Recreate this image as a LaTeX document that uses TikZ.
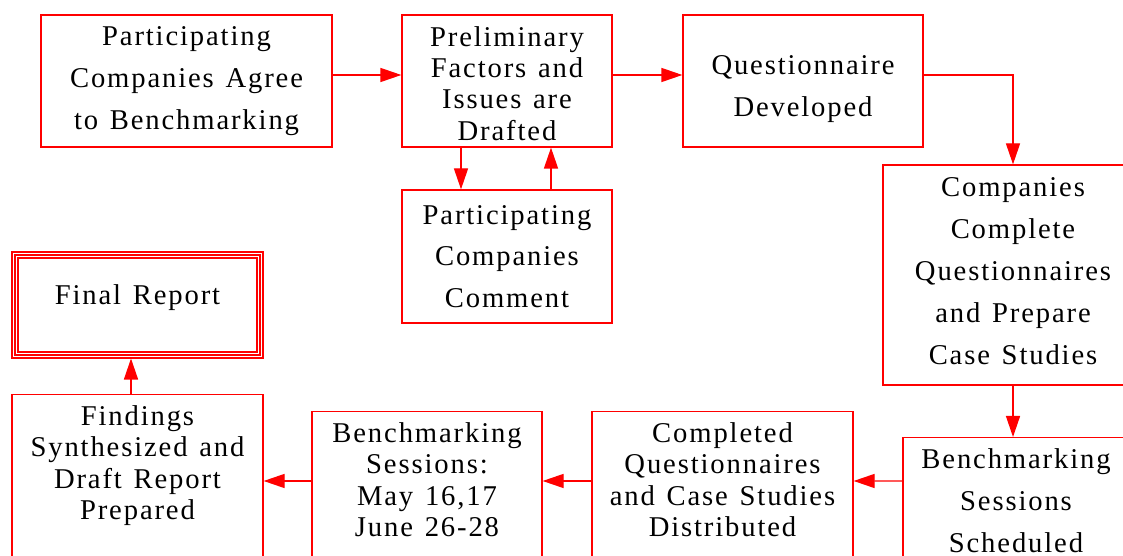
\documentclass[tikz,border=0pt]{standalone}
\usepackage{fontspec}
\setmainfont{Liberation Serif}[LetterSpace=6.5, WordSpace=1.3]
\usepackage{tikz}
\usetikzlibrary{arrows.meta}
\usetikzlibrary{positioning}
\tikzset{>={Triangle[length=12pt,width=8pt]}}
\tikzstyle{box} = [rectangle, draw=red, line width=0.7pt, align=center, font=\fontsize{16.3}{23.8}\selectfont]
\tikzstyle{tight} = [font=\fontsize{16.3}{17.8}\selectfont]
\tikzstyle{open} = [anchor=north, inner ysep=0.22cm, text depth=5cm]
\tikzstyle{link} = [->, draw=red, line width=0.8pt]

\begin{document}
\begin{tikzpicture}
\useasboundingbox (0,0) rectangle (22.46,11.12);
\clip (0,0) rectangle (22.46,11.12);
% top row
\node [box, minimum width=5.82cm, minimum height=2.64cm] (agree) at (3.73, 9.50) {Participating\\Companies Agree\\to Benchmarking};
\node [box, tight, minimum width=4.2cm, minimum height=2.64cm] (drafted) at (10.14, 9.50) {\rule{0pt}{14pt}Preliminary\\Factors and\\Issues are\\Drafted};
\node [box, minimum width=4.8cm, minimum height=2.64cm] (quest) at (16.06, 9.50) {\rule{0pt}{20pt}Questionnaire\\Developed};
\node [box, minimum width=4.2cm, minimum height=2.66cm] (comment) at (10.14, 5.99) {Participating\\Companies\\Comment};
\node [box, minimum width=5.2cm, minimum height=4.4cm] (complete) at (20.26, 5.62) {Companies\\Complete\\Questionnaires\\and Prepare\\Case Studies\rule[-4.5pt]{0pt}{0pt}};
% final report, triple frame
\node [box, double=white, double distance=2.8pt, line width=0.6pt, outer sep=0pt, minimum width=4.9cm, minimum height=2.0cm, text height=11pt, text depth=12pt] (final) at (2.75, 5.02) {Final Report};
\draw [red, line width=0.6pt] (final.south west) rectangle (final.north east);
% bottom row
\node [box, open, minimum width=4.52cm] (scheduled) at (20.32, 2.38) {Benchmarking\\Sessions\\Scheduled};
\node [box, tight, open, minimum width=5.22cm] (completed) at (14.45, 2.90) {Completed\\Questionnaires\\and Case Studies\\Distributed};
\node [box, tight, open, minimum width=4.6cm] (sessions) at (8.54, 2.90) {Benchmarking\\Sessions:\\May 16,17\\June 26-28};
\node [box, tight, open, minimum width=5.02cm] (findings) at (2.75, 3.24) {Findings\\Synthesized and\\Draft Report\\Prepared};
% connectors
\draw [link] ([yshift=0.12cm]agree.east) -- ([yshift=0.12cm]drafted.west);
\draw [link] ([yshift=0.12cm]drafted.east) -- ([yshift=0.12cm]quest.west);
\draw [link] ([yshift=0.12cm]quest.east) -| (complete.north);
\draw [link] ([xshift=-0.92cm]drafted.south) -- ([xshift=-0.92cm]comment.north);
\draw [link] ([xshift=0.88cm]comment.north) -- ([xshift=0.88cm]drafted.south);
\draw [link] (complete.south) -- (complete.south |- scheduled.north);
\draw [link] ([yshift=-0.88cm]scheduled.north west) -- ([yshift=-1.4cm]completed.north east);
\draw [link] ([yshift=-1.4cm]completed.north west) -- ([yshift=-1.4cm]sessions.north east);
\draw [link] ([yshift=-1.4cm]sessions.north west) -- ([yshift=-1.74cm]findings.north east);
\draw [link] ([xshift=-0.13cm]findings.north) -- ([xshift=-0.13cm, yshift=-0.07cm]final.south);
\end{tikzpicture}
\end{document}
